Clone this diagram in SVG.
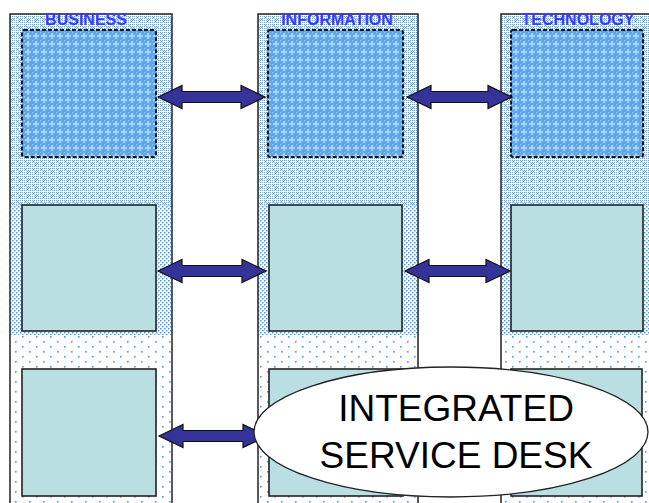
<svg xmlns="http://www.w3.org/2000/svg" width="649" height="503" viewBox="0 0 649 503">
<style>
.col{stroke:#222;stroke-width:1.5;fill:none}
.hdr{font-family:"Liberation Sans",Arial,sans-serif;font-weight:bold;font-size:16px;fill:#3a3af8;text-anchor:middle}
.top{fill:url(#pD);stroke:#111;stroke-width:2;stroke-dasharray:4 2}
.box{fill:#b9dfe2;stroke:#222;stroke-width:1.6}
.arr{fill:#333399;stroke:#111;stroke-width:1.2;stroke-linejoin:miter}
.big{font-family:"Liberation Sans",Arial,sans-serif;font-size:37px;fill:#000;text-anchor:middle}
.zA{fill:url(#pA)}
.zB{fill:url(#pB)}
.zC{fill:url(#pC)}
</style>
<defs>
<pattern id="pA" patternUnits="userSpaceOnUse" width="8" height="8">
<rect width="8" height="8" fill="#fff"/>
<g fill="#5aa2f0">
<rect x="0" y="0" width="1" height="1"/><rect x="2" y="0" width="1" height="1"/><rect x="4" y="0" width="1" height="1"/><rect x="6" y="0" width="1" height="1"/>
<rect x="0" y="2" width="1" height="1"/><rect x="2" y="2" width="1" height="1"/><rect x="4" y="2" width="1" height="1"/><rect x="6" y="2" width="1" height="1"/>
<rect x="0" y="4" width="1" height="1"/><rect x="2" y="4" width="1" height="1"/><rect x="4" y="4" width="1" height="1"/><rect x="6" y="4" width="1" height="1"/>
<rect x="0" y="6" width="1" height="1"/><rect x="2" y="6" width="1" height="1"/><rect x="4" y="6" width="1" height="1"/><rect x="6" y="6" width="1" height="1"/>
<rect x="1" y="1" width="1" height="1"/><rect x="3" y="3" width="1" height="1"/><rect x="5" y="3" width="1" height="1"/><rect x="3" y="5" width="1" height="1"/>
</g>
</pattern>
<pattern id="pB" patternUnits="userSpaceOnUse" width="4" height="4">
<rect width="4" height="4" fill="#fff"/>
<rect x="0" y="0" width="1.5" height="1.5" fill="#4a98ef"/>
<rect x="2" y="2" width="1.5" height="1.5" fill="#4a98ef"/>
</pattern>
<pattern id="pC" patternUnits="userSpaceOnUse" width="14" height="10">
<rect width="14" height="10" fill="#fff"/>
<rect x="1" y="1" width="1.6" height="1.6" fill="#4a98ef"/>
<rect x="8" y="6" width="1.6" height="1.6" fill="#4a98ef"/>
</pattern>
<pattern id="pD" patternUnits="userSpaceOnUse" width="8" height="8">
<rect width="8" height="8" fill="#5fa7ee"/>
<rect x="3" y="1" width="2" height="6" fill="#a6d4f0"/>
<rect x="1" y="3" width="6" height="2" fill="#a6d4f0"/>
<rect x="0" y="0" width="1" height="1" fill="#8ec6ef"/>
</pattern>
</defs>

<g id="business">
<rect class="zA" x="10" y="14" width="162" height="191"/>
<rect class="zB" x="10" y="205" width="162" height="130"/>
<rect class="zC" x="10" y="335" width="162" height="170"/>
<rect class="col" x="10" y="14" width="162" height="495"/>
<text class="hdr" x="86" y="25">BUSINESS</text>
</g>
<g id="information">
<rect class="zA" x="258" y="14" width="160" height="191"/>
<rect class="zB" x="258" y="205" width="160" height="130"/>
<rect class="zC" x="258" y="335" width="160" height="170"/>
<rect class="col" x="258" y="14" width="160" height="495"/>
<text class="hdr" x="337" y="25">INFORMATION</text>
</g>
<g id="technology">
<rect class="zA" x="501" y="14" width="170" height="191"/>
<rect class="zB" x="501" y="205" width="170" height="130"/>
<rect class="zC" x="501" y="335" width="170" height="170"/>
<rect class="col" x="501" y="14" width="170" height="495"/>
<text class="hdr" x="578" y="25">TECHNOLOGY</text>
</g>

<g id="b1"><rect class="top" x="22" y="30" width="134" height="127" rx="2"/></g>
<g id="i1"><rect class="top" x="268" y="30" width="135" height="127" rx="2"/></g>
<g id="t1"><rect class="top" x="511" y="30" width="132" height="127" rx="2"/></g>
<g id="b2"><rect class="box" x="22" y="205" width="134" height="126"/></g>
<g id="i2"><rect class="box" x="269" y="205" width="133" height="126"/></g>
<g id="t2"><rect class="box" x="511" y="205" width="132" height="126"/></g>
<g id="b3"><rect class="box" x="22" y="369" width="134" height="127"/></g>
<g id="i3"><rect class="box" x="269" y="369" width="134" height="127"/></g>
<g id="t3"><rect class="box" x="511" y="369" width="131" height="127"/></g>

<g id="connectors">
<path class="arr" d="M158,97 L182,85.5 L182,91.5 L241,91.5 L241,85.5 L265,97 L241,108.5 L241,102.5 L182,102.5 L182,108.5 Z"/>
<path class="arr" d="M407,97 L431,85.5 L431,91.5 L488,91.5 L488,85.5 L512,97 L488,108.5 L488,102.5 L431,102.5 L431,108.5 Z"/>
<path class="arr" d="M158,271 L182,259.5 L182,265.5 L242,265.5 L242,259.5 L266,271 L242,282.5 L242,276.5 L182,276.5 L182,282.5 Z"/>
<path class="arr" d="M405,271 L429,259.5 L429,265.5 L486,265.5 L486,259.5 L510,271 L486,282.5 L486,276.5 L429,276.5 L429,282.5 Z"/>
<path class="arr" d="M159,436 L183,424.5 L183,430.5 L243,430.5 L243,424.5 L267,436 L243,447.5 L243,441.5 L183,441.5 L183,447.5 Z"/>
</g>

<g id="service-desk">
<ellipse cx="451" cy="432" rx="197" ry="65" fill="#fff" stroke="#222" stroke-width="1.3"/>
<text class="big" x="456" y="421">INTEGRATED</text>
<text class="big" x="456" y="468">SERVICE DESK</text>
</g>
</svg>
